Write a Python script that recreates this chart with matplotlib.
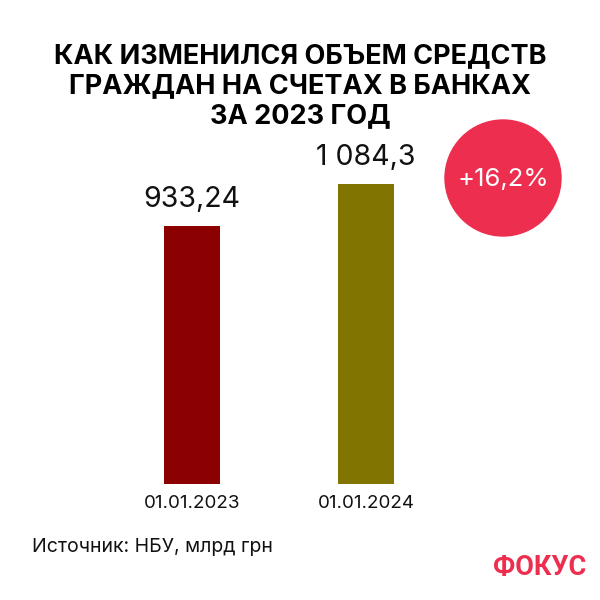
import matplotlib.pyplot as plt
from matplotlib.patches import Circle

# Data
dates = ["01.01.2023", "01.01.2024"]
values = [933.24, 1084.3]
value_labels = ["933,24", "1 084,3"]
bar_colors = ["#8b0000", "#827400"]
change_label = "+16,2%"

title = "КАК ИЗМЕНИЛСЯ ОБЪЕМ СРЕДСТВ\nГРАЖДАН НА СЧЕТАХ В БАНКАХ\nЗА 2023 ГОД"
source = "Источник: НБУ, млрд грн"

fig = plt.figure(figsize=(6, 6), dpi=100)
fig.patch.set_facecolor("white")

# axes: bottom at 484px, top of the tallest bar at 184px
ax = fig.add_axes([105 / 600, 1 - 484 / 600, 348 / 600, 300 / 600])
x = range(len(values))
ax.bar(x, values, width=0.322, color=bar_colors)
ax.set_xlim(-0.5, 1.5)
ax.set_ylim(0, max(values))
ax.axis("off")

for i, (v, lab) in enumerate(zip(values, value_labels)):
    ax.annotate(lab, (i, v), xytext=(0, 9), textcoords="offset points",
                ha="center", va="bottom", fontsize=20.5, family="Inter",
                color="#111111", annotation_clip=False)
    ax.annotate(dates[i], (i, 0), xytext=(0, -8), textcoords="offset points",
                ha="center", va="top", fontsize=13.5, family="Inter",
                color="#111111", annotation_clip=False)

fig.text(0.5, 1 - 86 / 600, title, ha="center", va="center", fontsize=19.5,
         fontweight="bold", family="Inter", linespacing=1.2, color="black")

# change badge
circ = Circle((503 / 600, 1 - 178 / 600), 58 / 600, transform=fig.transFigure,
              color="#ee2e4f", zorder=5)
fig.patches.append(circ)
fig.text(503 / 600, 1 - 179 / 600, change_label, ha="center", va="center",
         fontsize=18.5, family="Inter", color="white", zorder=6)

fig.text(32 / 600, 1 - 547 / 600, source, ha="left", va="center",
         fontsize=14, family="Inter", color="#111111")
fig.text(586 / 600, 1 - 567 / 600, "ФОКУС", ha="right", va="center",
         fontsize=19.5, fontweight="bold", family="Roboto", color="#ee2e4f")

fig.savefig("out.png", dpi=100)
